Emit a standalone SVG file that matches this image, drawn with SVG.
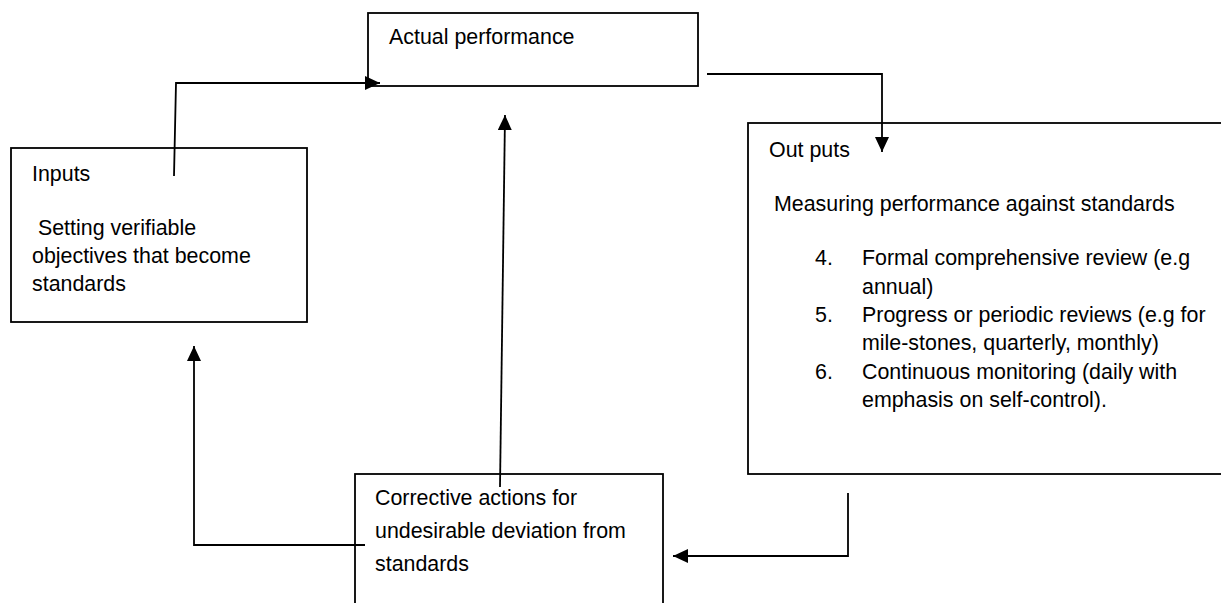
<svg xmlns="http://www.w3.org/2000/svg" width="1221" height="603" viewBox="0 0 1221 603">
  <style>
    .box { fill: #fff; stroke: #000; stroke-width: 1.8; }
    .t { font-family: "Liberation Sans", Arial, sans-serif; font-size: 21.4px; fill: #000; }
    .c { fill: none; stroke: #000; stroke-width: 1.8; }
  </style>
  <defs>
    <marker id="ah" markerUnits="userSpaceOnUse" markerWidth="16" markerHeight="14" refX="15" refY="7" orient="auto">
      <path d="M0,0 L15,7 L0,14 Z" fill="#000"/>
    </marker>
  </defs>
  <rect width="1221" height="603" fill="#fff"/>

  <g id="actual">
    <rect class="box" x="368" y="13" width="330" height="73"/>
    <text class="t" x="389" y="44">Actual performance</text>
  </g>

  <g id="inputs">
    <rect class="box" x="11" y="148" width="296" height="174"/>
    <text class="t" x="32" y="181">Inputs</text>
    <text class="t" x="32" y="235" xml:space="preserve"> Setting verifiable</text>
    <text class="t" x="32" y="263">objectives that become</text>
    <text class="t" x="32" y="291">standards</text>
  </g>

  <g id="outputs">
    <rect class="box" x="748" y="123" width="490" height="351"/>
    <text class="t" x="769" y="157">Out puts</text>
    <text class="t" x="774" y="211">Measuring performance against standards</text>
    <text class="t" x="815" y="265">4.</text>
    <text class="t" x="862" y="265">Formal comprehensive review (e.g</text>
    <text class="t" x="862" y="294">annual)</text>
    <text class="t" x="815" y="322">5.</text>
    <text class="t" x="862" y="322">Progress or periodic reviews (e.g for</text>
    <text class="t" x="862" y="350">mile-stones, quarterly, monthly)</text>
    <text class="t" x="815" y="379">6.</text>
    <text class="t" x="862" y="379">Continuous monitoring (daily with</text>
    <text class="t" x="862" y="407">emphasis on self-control).</text>
  </g>

  <g id="corrective">
    <rect class="box" x="355" y="474" width="308" height="140"/>
    <text class="t" x="375" y="505">Corrective actions for</text>
    <text class="t" x="375" y="538">undesirable deviation from</text>
    <text class="t" x="375" y="571">standards</text>
  </g>

  <g id="connectors">
    <polyline class="c" points="174,176 176,83 380,83" marker-end="url(#ah)"/>
    <polyline class="c" points="707,74 882,74 882,152" marker-end="url(#ah)"/>
    <line class="c" x1="500" y1="487" x2="505" y2="115" marker-end="url(#ah)"/>
    <polyline class="c" points="365,545 194,545 194,346" marker-end="url(#ah)"/>
    <polyline class="c" points="848,493 848,556 673,556" marker-end="url(#ah)"/>
  </g>
</svg>
